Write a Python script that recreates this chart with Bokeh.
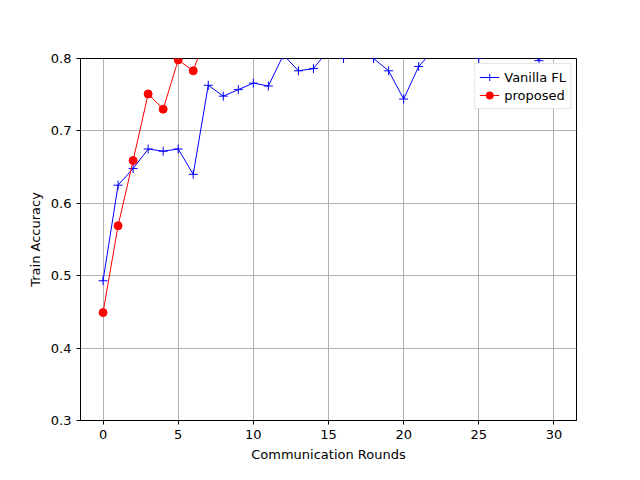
from bokeh.plotting import figure
from bokeh.models import Range1d, FixedTicker
from bokeh.embed import file_html
from bokeh.resources import INLINE

rounds = list(range(31))
vanilla = [0.493, 0.625, 0.648, 0.675, 0.672, 0.675, 0.640, 0.763, 0.748, 0.757,
           0.766, 0.762, 0.805, 0.783, 0.786, 0.812, 0.800, 0.815, 0.800, 0.783,
           0.744, 0.789, 0.812, 0.818, 0.815, 0.800, 0.820, 0.822, 0.818, 0.797, 0.825]
proposed_rounds = list(range(31))
proposed = [0.449, 0.569, 0.659, 0.751, 0.730, 0.798, 0.783, 0.840, 0.850, 0.860,
            0.865, 0.870, 0.875, 0.878, 0.880, 0.882, 0.885, 0.886, 0.888, 0.889,
            0.890, 0.891, 0.892, 0.893, 0.894, 0.895, 0.896, 0.896, 0.897, 0.898, 0.898]

p = figure(width=624, height=464, output_backend="svg", toolbar_location=None,
           x_range=Range1d(-1.5, 31.5), y_range=Range1d(0.3, 0.8),
           min_border_left=80, min_border_right=48, min_border_top=58, min_border_bottom=37)
p.xaxis.axis_label = "Communication Rounds"
p.yaxis.axis_label = "Train Accuracy"
p.xaxis.ticker = FixedTicker(ticks=[0, 5, 10, 15, 20, 25, 30])
p.yaxis.ticker = FixedTicker(ticks=[0.3, 0.4, 0.5, 0.6, 0.7, 0.8])
for ax in (p.xaxis, p.yaxis):
    ax.axis_label_text_font = "DejaVu Sans"
    ax.axis_label_text_font_style = "normal"
    ax.axis_label_text_font_size = "13px"
    ax.axis_label_text_color = "black"
    ax.major_label_text_font = "DejaVu Sans"
    ax.major_label_text_font_size = "13px"
    ax.major_label_text_color = "black"
    ax.axis_line_color = "black"
    ax.major_tick_line_color = "black"
    ax.minor_tick_line_color = None
    ax.major_tick_out = 4
    ax.major_tick_in = 0
p.grid.grid_line_color = "#b0b0b0"
p.grid.grid_line_alpha = 1.0
p.outline_line_color = "black"

p.line(rounds, vanilla, color="blue", line_width=1, legend_label="Vanilla FL")
p.scatter(rounds, vanilla, marker="cross", size=9, color="blue", legend_label="Vanilla FL")
p.line(proposed_rounds, proposed, color="red", line_width=1, legend_label="proposed")
p.scatter(proposed_rounds, proposed, marker="circle", size=8, color="red", legend_label="proposed")

p.legend.location = "top_right"
p.legend.label_text_font = "DejaVu Sans"
p.legend.label_text_font_size = "13px"
p.legend.label_text_color = "black"
p.legend.border_line_color = "#cccccc"
p.legend.spacing = 0
p.legend.padding = 4
p.legend.margin = 5
p.legend.glyph_height = 18

open("out.html", "w").write(file_html(p, INLINE))
